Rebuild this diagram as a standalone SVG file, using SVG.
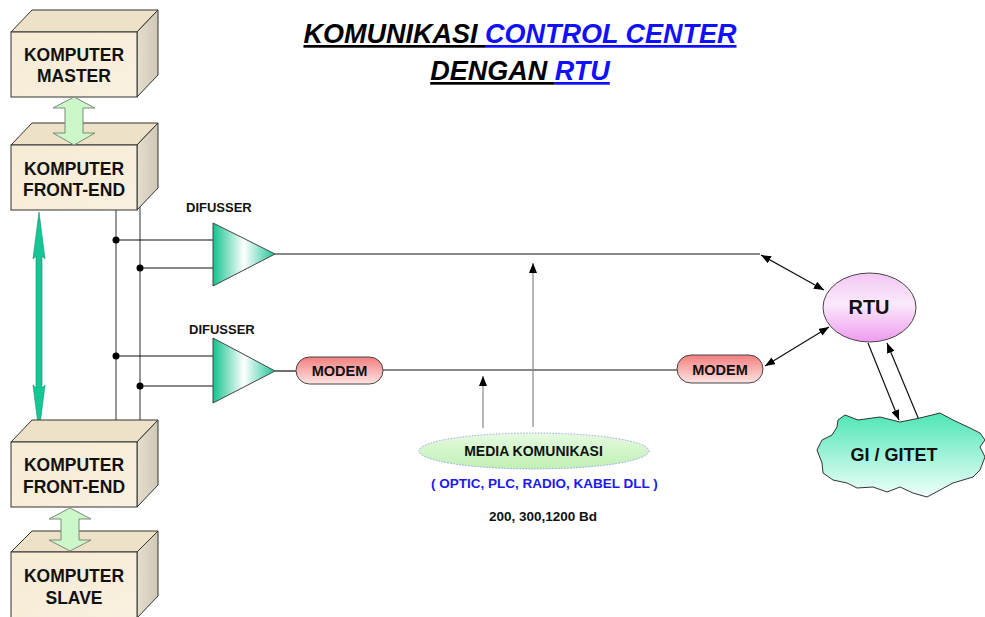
<svg xmlns="http://www.w3.org/2000/svg" width="985" height="617" viewBox="0 0 985 617">
<style>
text{font-family:"Liberation Sans",Arial,sans-serif;font-weight:bold;}
.bt{font-size:17.5px;fill:#111;text-anchor:middle;}
.front{fill:url(#gFront);stroke:#333;stroke-width:1;}
.top{fill:#EDE2C8;stroke:#333;stroke-width:1;}
.side{fill:url(#gSide);stroke:#333;stroke-width:1;}
.dbl{fill:#CCF7C8;stroke:#7a8a7a;stroke-width:1;}
.bus{stroke:#333;stroke-width:1;fill:none;}
.ln{stroke:#111;stroke-width:1.2;fill:none;}
.gl{stroke:#888;stroke-width:1.2;fill:none;}
.dot{fill:#000;}
.dif{fill:url(#gDif);stroke:#444;stroke-width:1;}
.modem{fill:url(#gModem);stroke:#444;stroke-width:1;}
.mt{font-size:14.5px;fill:#111;text-anchor:middle;}
</style>
<defs>
<linearGradient id="gFront" x1="0" y1="0" x2="1" y2="1">
<stop offset="0" stop-color="#F6EBD3"/><stop offset="1" stop-color="#F9F0E0"/>
</linearGradient>
<linearGradient id="gSide" x1="0" y1="0" x2="1" y2="0">
<stop offset="0" stop-color="#E6DECB"/><stop offset="1" stop-color="#CFC8B8"/>
</linearGradient>
<linearGradient id="gDif" x1="0" y1="0" x2="1" y2="0">
<stop offset="0" stop-color="#16C28F"/><stop offset="0.5" stop-color="#FFFFFF"/><stop offset="1" stop-color="#1CC596"/>
</linearGradient>
<linearGradient id="gModem" x1="0" y1="0" x2="0" y2="1">
<stop offset="0" stop-color="#F27E7E"/><stop offset="1" stop-color="#FFE4E4"/>
</linearGradient>
<linearGradient id="gRtu" x1="0" y1="0" x2="0" y2="1">
<stop offset="0" stop-color="#F2C6F2"/><stop offset="0.45" stop-color="#FBEAFB"/><stop offset="1" stop-color="#EE9AEE"/>
</linearGradient>
<linearGradient id="gCloud" x1="0" y1="0" x2="0" y2="1">
<stop offset="0" stop-color="#4EE6B6"/><stop offset="1" stop-color="#F0FFFA"/>
</linearGradient>
<linearGradient id="gMedia" x1="0" y1="0" x2="0" y2="1">
<stop offset="0" stop-color="#E6FAE0"/><stop offset="1" stop-color="#BFF0B4"/>
</linearGradient>
<marker id="ah" viewBox="0 0 10 8" refX="10" refY="4" markerWidth="10" markerHeight="8" markerUnits="userSpaceOnUse" orient="auto-start-reverse">
<path d="M0,0 L10,4 L0,8 Z" fill="#000"/>
</marker>
</defs>

<!-- Title -->
<g id="title">
<text x="520" y="43" font-size="27" font-style="italic" text-anchor="middle"><tspan fill="#000" text-decoration="underline">KOMUNIKASI </tspan><tspan fill="#1010FF" text-decoration="underline">CONTROL CENTER</tspan></text>
<text x="520" y="80" font-size="27" font-style="italic" text-anchor="middle"><tspan fill="#000" text-decoration="underline">DENGAN </tspan><tspan fill="#1010FF" text-decoration="underline">RTU</tspan></text>
</g>

<!-- Connectors -->
<g id="connectors">
<line class="bus" x1="116" y1="210" x2="116" y2="420"/>
<line class="bus" x1="140" y1="207" x2="140" y2="420"/>
<line class="ln" x1="116" y1="240" x2="213" y2="240"/>
<line class="ln" x1="140" y1="268" x2="213" y2="268"/>
<line class="ln" x1="116" y1="356" x2="213" y2="356"/>
<line class="ln" x1="140" y1="386" x2="213" y2="386"/>
<circle class="dot" cx="116" cy="240" r="3.5"/>
<circle class="dot" cx="140" cy="268" r="3.5"/>
<circle class="dot" cx="116" cy="356" r="3.5"/>
<circle class="dot" cx="140" cy="386" r="3.5"/>
<line class="ln" x1="275" y1="254" x2="760" y2="254"/>
<line class="ln" x1="275" y1="371" x2="296" y2="371"/>
<line class="ln" x1="383" y1="370" x2="677" y2="370"/>
<line class="ln" x1="761" y1="255" x2="824" y2="290" marker-start="url(#ah)" marker-end="url(#ah)"/>
<line class="ln" x1="765" y1="366" x2="829" y2="327" marker-start="url(#ah)" marker-end="url(#ah)"/>
<line class="gl" x1="483" y1="428" x2="483" y2="376" marker-end="url(#ah)"/>
<line class="gl" x1="533" y1="427" x2="533" y2="263" marker-end="url(#ah)"/>
<line class="ln" x1="868" y1="343" x2="899" y2="420" marker-end="url(#ah)" stroke="#333"/>
<line class="ln" x1="919" y1="420" x2="887" y2="343" marker-end="url(#ah)" stroke="#333"/>
<!-- green vertical double arrow -->
<polygon points="39,212 45,259 42,256 42,388 45,385 39,432 33,385 36,388 36,256 33,259" fill="#12C895" stroke="#0B8F6A" stroke-width="0.6"/>
</g>

<!-- Boxes -->
<g id="komputer-master">
<polygon class="top" points="11,32 32,10 158,10 137,32"/>
<polygon class="side" points="137,32 158,10 158,75 137,97"/>
<rect class="front" x="11" y="32" width="126" height="65"/>
<text class="bt" x="74" y="61">KOMPUTER</text>
<text class="bt" x="74" y="82">MASTER</text>
</g>

<g id="komputer-frontend-1">
<polygon class="top" points="11,145 32,123 158,123 137,145"/>
<polygon class="side" points="137,145 158,123 158,188 137,210"/>
<rect class="front" x="11" y="145" width="126" height="65"/>
<text class="bt" x="74" y="175">KOMPUTER</text>
<text class="bt" x="74" y="196">FRONT-END</text>
</g>

<g id="komputer-frontend-2">
<polygon class="top" points="11,442 32,420 158,420 137,442"/>
<polygon class="side" points="137,442 158,420 158,485 137,507"/>
<rect class="front" x="11" y="442" width="126" height="65"/>
<text class="bt" x="74" y="471">KOMPUTER</text>
<text class="bt" x="74" y="493">FRONT-END</text>
</g>

<g id="komputer-slave">
<polygon class="top" points="11,552 32,531 158,531 137,552"/>
<polygon class="side" points="137,552 158,531 158,596 137,618"/>
<rect class="front" x="11" y="552" width="126" height="70"/>
<text class="bt" x="74" y="582">KOMPUTER</text>
<text class="bt" x="74" y="604">SLAVE</text>
</g>

<g id="arrow-master-frontend">
<polygon class="dbl" points="74,97 95,108 83,108 83,133 95,133 74,145 53,133 65,133 65,108 53,108"/>
</g>
<g id="arrow-frontend-slave">
<polygon class="dbl" points="70,508 91,519 79,519 79,540 91,540 70,551 49,540 61,540 61,519 49,519"/>
</g>

<!-- Diffusers -->
<g id="difusser-1">
<text x="186" y="212" font-size="13" fill="#111">DIFUSSER</text>
<polygon class="dif" points="213,223 275,254 213,286"/>
</g>
<g id="difusser-2">
<text x="189" y="334" font-size="13" fill="#111">DIFUSSER</text>
<polygon class="dif" points="213,338 275,371 213,403"/>
</g>

<!-- Modems -->
<g id="modem-1">
<rect class="modem" x="296" y="357" width="87" height="27" rx="13.5"/>
<text class="mt" x="339.5" y="376">MODEM</text>
</g>
<g id="modem-2">
<rect class="modem" x="677" y="355" width="86" height="28" rx="14"/>
<text class="mt" x="720" y="374.5">MODEM</text>
</g>

<!-- RTU -->
<g id="rtu">
<ellipse cx="869.5" cy="307.5" rx="46.5" ry="34.5" fill="url(#gRtu)" stroke="#444" stroke-width="1"/>
<text x="869" y="314" font-size="20" fill="#111" text-anchor="middle">RTU</text>
</g>

<!-- Cloud -->
<g id="gi-gitet">
<polygon points="838,420 845,415 858,420 880,417 900,422 920,418 940,413 953,420 970,428 980,433 985,440 980,447 985,457 980,470 973,477 953,483 940,490 927,497 913,493 900,487 887,492 873,487 857,488 847,483 833,480 823,473 822,463 817,450 822,440 832,435 837,427" fill="url(#gCloud)" stroke="#333" stroke-width="1"/>
<text x="894" y="461" font-size="18" fill="#111" text-anchor="middle">GI / GITET</text>
</g>

<!-- Media -->
<g id="media-komunikasi">
<ellipse cx="534" cy="451" rx="115" ry="18" fill="url(#gMedia)" stroke="#9AA0F0" stroke-width="1" stroke-dasharray="1.5,1.5"/>
<text x="533.5" y="456" font-size="14" fill="#111" text-anchor="middle">MEDIA KOMUNIKASI</text>
<text x="544.5" y="488" font-size="13.5" fill="#1A1AF5" text-anchor="middle">( OPTIC, PLC, RADIO, KABEL DLL )</text>
<text x="543" y="521" font-size="13.5" fill="#111" text-anchor="middle">200, 300,1200 Bd</text>
</g>
</svg>
